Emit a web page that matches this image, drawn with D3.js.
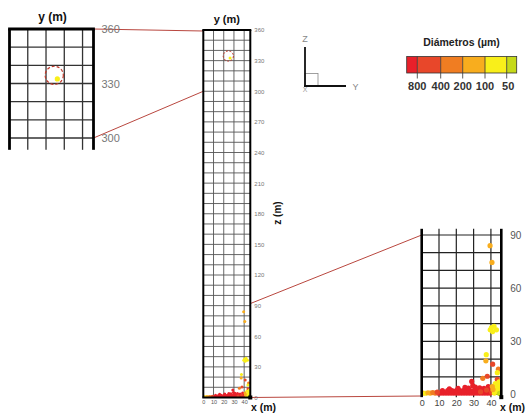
<!DOCTYPE html>
<html><head><meta charset="utf-8">
<script src="https://cdn.jsdelivr.net/npm/d3@7"></script>
<style>
body{margin:0;background:#fff;}
svg{display:block;font-family:"Liberation Sans",Arial,sans-serif;}
</style>
</head><body>
<svg id="c" width="526" height="415"></svg>
<script>
// ---------- DATA ----------
const gridXValues = [10, 20, 30, 40];
const xTickValues = [0, 10, 20, 30, 40];
const mainZTicks = [0, 30, 60, 90, 120, 150, 180, 210, 240, 270, 300, 330, 360];
const topInsetTicks = [300, 330, 360];
const botInsetTicks = [0, 30, 60, 90];
const legendLabels = ["800", "400", "200", "100", "50"];
const legendThresholds = [50, 100, 200, 400, 800];
const legendColors = ["#e8202a", "#e8472a", "#f07d22", "#f8ad1e", "#f9ef1a", "#c5d919"]; // large -> small
// droplets: x (m), z (m), diameter (µm)
const dropX = [39.5, 40.6, 39.6, 40.3, 41.8, 43.2, 41.0, 37.3, 37.1, 41.0, 44.3, 43.7, 37.9, 35.3, 28.9, 43.7,
  9.5, 11, 12.5, 14, 15.5, 17, 18.5, 20, 21.5, 23, 24.5, 26, 27.5, 29, 30.5, 32, 33.5, 35, 36.5, 38, 39.5,
  12, 15, 17.5, 20, 22, 24, 26.5, 28, 30, 31.5, 33, 35, 37, 39,
  16, 21, 25, 27, 29.5, 31, 33.5, 36, 38.5,
  34, 37.5, 40.5,
  0.8, 2.2, 3.6, 5, 6.4, 7.8, 9,
  42, 43.5, 44.8, 43, 44.5, 42.5, 44.7, 41.2, 40.8, 45,
  26.2];
const dropZ = [84, 74.5, 36.5, 37.8, 38.5, 36.5, 35.5, 22.5, 19, 17.1, 14.3, 12.3, 10.3, 9.1, 7.4, 8.6,
  0.8, 0.8, 0.8, 0.8, 0.8, 0.8, 0.8, 0.8, 0.8, 0.8, 0.8, 0.8, 0.8, 0.8, 0.8, 0.8, 0.8, 0.8, 0.8, 0.8, 0.8,
  2.2, 2.2, 2.2, 2.2, 2.2, 2.2, 2.2, 2.2, 2.2, 2.2, 2.2, 2.2, 2.2, 2.2,
  3.2, 3.5, 4, 3.6, 5, 4.2, 3.8, 3.4, 4.5,
  1.5, 2.5, 1.2,
  0.8, 0.7, 1, 0.8, 1.1, 0.8, 1.3,
  0.8, 1.5, 2.5, 3.5, 5, 6.2, 7.2, 2.8, 4.5, 0.6,
  332.5];
const dropD = [150, 180, 70, 70, 80, 70, 60, 80, 130, 700, 250, 80, 700, 250, 850, 700,
  850, 850, 850, 850, 850, 850, 850, 850, 850, 850, 850, 850, 850, 850, 850, 850, 850, 850, 850, 850, 850,
  850, 850, 850, 850, 850, 850, 850, 850, 850, 850, 850, 850, 850, 850,
  850, 850, 850, 850, 850, 850, 850, 850, 850,
  500, 500, 500,
  150, 90, 150, 180, 250, 300, 500,
  70, 80, 60, 90, 70, 80, 75, 150, 180, 40,
  95];
const plume = {x: 24.5, z: 334.5, r: 5};

// ---------- DRAW ----------
const svg = d3.select("#c");
const color = d3.scaleThreshold().domain(legendThresholds).range(legendColors.slice().reverse());
const drops = dropX.map((x, i) => ({x, z: dropZ[i], d: dropD[i]}));
const lineRed = "#b9473f";

function panel(id, xs, zs, zMin, zMax, o) {
  const g = svg.append("g");
  const x0 = xs(0), x1 = xs(46), yTop = zs(zMax), yBot = zs(zMin);
  g.append("clipPath").attr("id", id).append("rect")
    .attr("x", x0).attr("y", yTop).attr("width", x1 - x0).attr("height", yBot - yTop);
  const gl = g.append("g");
  const hz = d3.range(Math.ceil(zMin / 10) * 10, zMax + 0.01, 10);
  gl.selectAll("line.h").data(hz).join("line")
    .attr("x1", x0).attr("x2", x1).attr("y1", d => zs(d)).attr("y2", d => zs(d))
    .attr("stroke", o.grid).attr("stroke-width", o.gw);
  gl.selectAll("line.v").data(gridXValues).join("line")
    .attr("x1", d => xs(d)).attr("x2", d => xs(d)).attr("y1", yTop).attr("y2", yBot)
    .attr("stroke", o.grid).attr("stroke-width", o.gw);
  g.append("g").attr("clip-path", `url(#${id})`).selectAll("circle").data(drops).join("circle")
    .attr("cx", d => xs(d.x)).attr("cy", d => zs(d.z)).attr("r", o.r)
    .attr("fill", d => color(d.d));
  const b = g.append("g").attr("stroke", "#000").attr("stroke-width", o.bw);
  b.append("line").attr("x1", x0).attr("x2", x0).attr("y1", yTop).attr("y2", yBot);
  b.append("line").attr("x1", x1).attr("x2", x1).attr("y1", yTop).attr("y2", yBot);
  if (o.top) b.append("line").attr("x1", x0 - o.bw / 2).attr("x2", x1 + o.bw / 2).attr("y1", yTop).attr("y2", yTop);
  if (o.bottom) b.append("line").attr("x1", x0 - o.bw / 2).attr("x2", x1 + o.bw / 2).attr("y1", yBot).attr("y2", yBot);
  if (o.corner) g.append("rect").attr("x", x1 - 2).attr("y", yBot - 2).attr("width", 4).attr("height", 4).attr("fill", "#000");
  return g;
}

// scales
const xM = d3.scaleLinear([0, 46], [203.3, 250.3]);
const zM = d3.scaleLinear([0, 360], [397.5, 30]);
const xT = d3.scaleLinear([0, 46], [9.5, 93.5]);
const zT = d3.scaleLinear([300, 360], [138, 29]);
const xB = d3.scaleLinear([0, 46], [421.7, 501.3]);
const zB = d3.scaleLinear([0, 90], [394.5, 235]);

// connectors (behind)
const con = svg.append("g").attr("stroke", lineRed).attr("stroke-width", 1).attr("fill", "none");
con.append("line").attr("x1", xT(46)).attr("y1", zT(360)).attr("x2", xM(0)).attr("y2", zM(360) + 1);
con.append("line").attr("x1", xT(46)).attr("y1", zT(300)).attr("x2", xM(0)).attr("y2", zM(300));
con.append("line").attr("x1", xM(46)).attr("y1", zM(92)).attr("x2", xB(0)).attr("y2", zB(90));
con.append("line").attr("x1", xM(46)).attr("y1", zM(0)).attr("x2", xB(0)).attr("y2", zB(0) + 1.5);

// panels
panel("cm", xM, zM, 0, 360, {grid: "#555", gw: 0.9, bw: 2, r: 1.5, top: true, bottom: true, corner: true});
panel("ct", xT, zT, 293.5, 360, {grid: "#333", gw: 1.3, bw: 2.8, r: 2.6, top: true, bottom: false});
panel("cb", xB, zB, -1.5, 93.5, {grid: "#222", gw: 1.2, bw: 2.6, r: 2.6, top: false, bottom: false, corner: true});

// plume circles
svg.append("circle").attr("cx", xM(plume.x)).attr("cy", zM(plume.z)).attr("r", zM(0) - zM(plume.r))
  .attr("fill", "none").attr("stroke", "#c0392b").attr("stroke-width", 1).attr("stroke-dasharray", "2,1.5");
svg.append("circle").attr("cx", xT(plume.x)).attr("cy", zT(plume.z)).attr("r", zT(300) - zT(300 + plume.r))
  .attr("fill", "none").attr("stroke", "#c0392b").attr("stroke-width", 1.2).attr("stroke-dasharray", "3,2");

// axes
function styleAxis(g, size, fill) {
  g.select(".domain").remove();
  g.selectAll("text").attr("font-size", size).attr("fill", fill).attr("font-family", "\"Liberation Sans\",Arial,sans-serif");
}
svg.append("g").attr("transform", `translate(${xM(46) + 4},0)`)
  .call(d3.axisRight(zM).tickValues(mainZTicks).tickSize(0).tickPadding(0))
  .call(g => styleAxis(g, 6, "#777"));
svg.append("g").attr("transform", `translate(0,${zM(0) + 3})`)
  .call(d3.axisBottom(xM).tickValues(xTickValues).tickSize(0).tickPadding(0))
  .call(g => styleAxis(g, 5.5, "#555"));
svg.append("g").attr("transform", `translate(${xT(46) + 8},0)`)
  .call(d3.axisRight(zT).tickValues(topInsetTicks).tickSize(0).tickPadding(0))
  .call(g => styleAxis(g, 11, "#777"));
svg.append("g").attr("transform", `translate(${xB(46) + 9},0)`)
  .call(d3.axisRight(zB).tickValues(botInsetTicks).tickSize(0).tickPadding(0))
  .call(g => styleAxis(g, 10, "#555"));
svg.append("g").attr("transform", `translate(0,${zB(0) + 5})`)
  .call(d3.axisBottom(xB).tickValues(xTickValues).tickSize(0).tickPadding(0))
  .call(g => styleAxis(g, 9, "#444"));

// axis titles
const title = (x, y, t, s, rot, anchor) => svg.append("text").attr("x", x).attr("y", y).attr("text-anchor", anchor || "middle")
  .attr("font-weight", "bold").attr("font-size", s).attr("fill", "#111")
  .attr("transform", rot ? `rotate(-90,${x},${y})` : null).text(t);
title(226.8, 22.5, "y (m)", 11);
title(52.5, 21, "y (m)", 12);
title(263.5, 411, "x (m)", 10.5);
title(525, 411, "x (m)", 10.5, false, "end");
title(280.5, 213, "z (m)", 10, true);

// coordinate icon
const ic = svg.append("g");
ic.append("rect").attr("x", 305).attr("y", 73.5).attr("width", 13).attr("height", 12.5).attr("fill", "none").attr("stroke", "#888").attr("stroke-width", 0.8);
ic.append("line").attr("x1", 305).attr("x2", 305).attr("y1", 47).attr("y2", 87).attr("stroke", "#111").attr("stroke-width", 1.8);
ic.append("line").attr("x1", 304).attr("x2", 346).attr("y1", 86).attr("y2", 86).attr("stroke", "#111").attr("stroke-width", 1.8);
ic.append("text").attr("x", 305).attr("y", 42).attr("text-anchor", "middle").attr("font-size", 9).attr("fill", "#888").text("Z");
ic.append("text").attr("x", 355.5).attr("y", 90).attr("text-anchor", "middle").attr("font-size", 9).attr("fill", "#888").text("Y");
ic.append("text").attr("x", 305).attr("y", 92).attr("text-anchor", "middle").attr("font-size", 7).attr("fill", "#999").text("X");

// legend
const lg = svg.append("g");
const segEdges = [406.7, 417.3, 440.7, 462.7, 485, 506.7, 516.7];
lg.selectAll("rect").data(legendColors).join("rect")
  .attr("x", (d, i) => segEdges[i]).attr("y", 56.5).attr("width", (d, i) => segEdges[i + 1] - segEdges[i]).attr("height", 16.5)
  .attr("fill", d => d);
lg.append("rect").attr("x", 406.7).attr("y", 56.5).attr("width", 110).attr("height", 16.5).attr("fill", "none").attr("stroke", "#333").attr("stroke-width", 0.8);
lg.selectAll("line").data(legendLabels).join("line")
  .attr("x1", (d, i) => segEdges[i + 1]).attr("x2", (d, i) => segEdges[i + 1]).attr("y1", 56.5).attr("y2", 78.5)
  .attr("stroke", "#333").attr("stroke-width", 0.8);
lg.selectAll("text.l").data(legendLabels).join("text").attr("class", "l")
  .attr("x", (d, i) => segEdges[i + 1] + (i === 4 ? 1.5 : 0)).attr("y", 90).attr("text-anchor", "middle")
  .attr("font-size", 11).attr("font-weight", "bold").attr("fill", "#333").text(d => d);
lg.append("text").attr("x", 461.5).attr("y", 45.5).attr("text-anchor", "middle").attr("font-size", 10.5)
  .attr("font-weight", "bold").attr("fill", "#222").text("Diámetros (µm)");
</script>
</body></html>
